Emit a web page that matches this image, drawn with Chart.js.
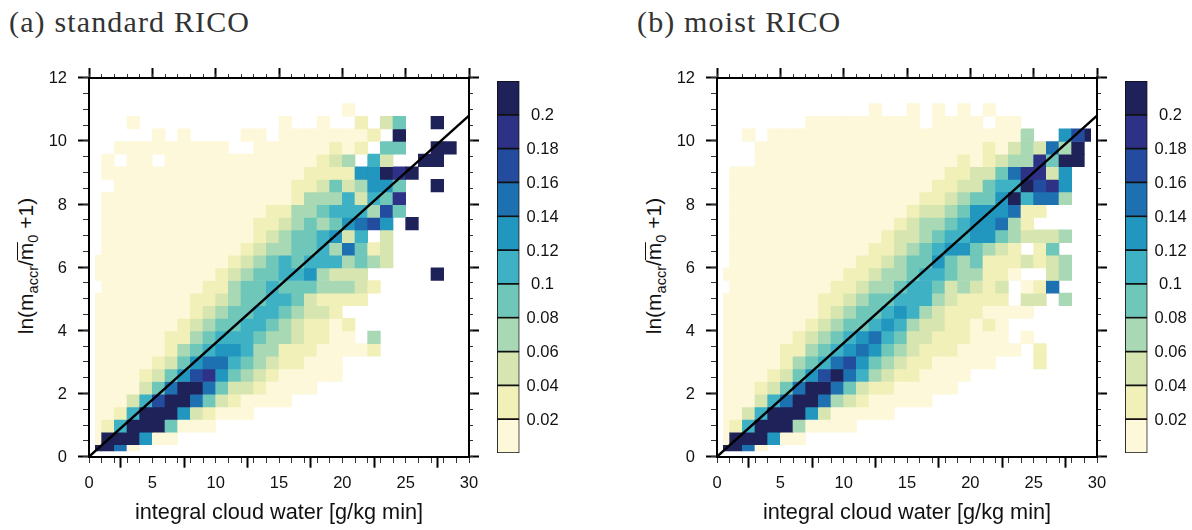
<!DOCTYPE html>
<html>
<head>
<meta charset="utf-8">
<script src="https://cdn.jsdelivr.net/npm/chart.js@4"></script>
<style>
  html, body { margin: 0; background: #fff; }
  #page { position: relative; width: 1192px; height: 530px; overflow: hidden; }
  canvas { position: absolute; }
  .panel-title { position: absolute; top: 5px; font: 30px "Liberation Serif", serif; letter-spacing: 1.15px; color: #333; white-space: nowrap; }
  .y-title { position: absolute; top: 266px; font: 21px "Liberation Sans", sans-serif; color: #111; white-space: nowrap;
    transform: translate(-50%, -50%) rotate(-90deg); }
  .y-title sub { font-size: 14.5px; line-height: 0; }
  .y-title .bar { display: inline-block; line-height: 16px; border-top: 1.5px solid #111; }
</style>
</head>
<body>
<div id="page"></div>
<script>
// colour class of each cell: 0 = empty, 1 = below 0.02 ... 11 = above 0.2
const levelColors = ["#fdf8da", "#f1f0b8", "#d7e6b1", "#a9d8b5", "#6fc7ba", "#3fb1c4",
  "#2196bf", "#1e71b0", "#234c9e", "#2e3286", "#1f2259"];
const levelTicks = ["0.02", "0.04", "0.06", "0.08", "0.1", "0.12", "0.14", "0.16", "0.18", "0.2"];
const levelStep = 0.02;

// fitted line
const fitX = [0, 30];
const fitY = [0, 10.8];

// panel titles and axis text
const titles = ["(a) standard RICO", "(b) moist RICO"];
const xTitle = "integral cloud water [g/kg min]";

// rows run bottom to top, columns left to right, trailing empties left off
const gridA = [
  [11,11,8,1],
  [1,11,11,11,7,1,1],
  [1,2,6,11,11,11,5,1,1,1],
  [1,1,2,6,11,11,11,7,3,2,1,1,1],
  [1,1,1,3,6,9,11,11,8,5,3,2,1,1,1,1],
  [1,1,1,1,3,5,8,11,11,8,5,3,3,2,1,1,1,1],
  [1,1,1,1,2,3,5,7,9,10,7,5,4,3,2,1,1,1,1,1],
  [1,1,1,1,1,2,3,5,7,8,8,6,5,4,3,2,2,1,1,1],
  [1,1,1,1,1,1,2,4,5,6,7,7,6,4,4,2,2,2,1,1,1,1,2],
  [1,1,1,1,1,1,2,2,4,5,6,6,6,5,4,4,3,2,2,1,1,0,4],
  [1,1,1,1,1,1,1,2,3,4,5,5,6,6,5,4,3,2,2,1,2],
  [1,1,1,1,1,1,1,1,2,3,4,5,5,6,6,5,4,3,3,2],
  [1,1,1,1,1,1,1,1,2,2,3,4,5,5,6,6,5,3,2,2,2,2],
  [0,1,1,1,1,1,1,1,1,2,2,4,5,5,6,5,5,5,4,4,4,3,2],
  [1,1,1,1,1,1,1,1,1,1,2,3,4,5,5,6,6,7,4,3,3,3,0,0,0,0,0,11],
  [1,1,1,1,1,1,1,1,1,1,1,2,3,4,5,6,5,6,6,6,4,5,4,3],
  [0,1,1,1,1,1,1,1,1,1,1,1,2,3,4,4,5,5,6,4,8,5,2,3],
  [0,1,1,1,1,1,1,1,1,1,1,1,1,2,3,4,5,5,6,7,3,6,0,3],
  [0,1,1,1,1,1,1,1,1,1,1,1,1,2,2,3,4,5,4,5,7,8,9,7,0,11],
  [0,1,1,1,1,1,1,1,1,1,1,1,1,1,2,2,4,4,5,6,6,6,4,9,5],
  [0,1,1,1,1,1,1,1,1,1,1,1,1,1,1,1,2,4,4,4,6,3,6,5,10],
  [0,0,1,1,1,1,1,1,1,1,1,1,1,1,1,1,2,2,3,5,3,4,7,7,5,0,0,11],
  [0,1,1,1,1,1,1,1,1,1,1,1,1,1,1,1,1,2,2,2,2,7,7,11,10,11],
  [0,1,0,1,1,0,1,1,1,1,1,1,1,1,1,1,1,1,2,3,4,0,6,3,0,0,11,11],
  [0,0,1,1,1,1,1,1,1,1,1,0,0,1,1,1,1,1,1,2,1,2,0,5,5,0,0,11,11],
  [0,0,0,0,0,1,0,1,0,0,0,0,1,1,0,1,1,1,1,1,1,1,2,0,11],
  [0,0,0,1,0,0,0,0,0,0,0,0,0,0,0,1,0,0,1,0,0,2,0,3,5,0,0,11],
  [0,0,0,0,0,0,0,0,0,0,0,0,0,0,0,0,0,0,0,0,1],
];

const gridB = [
  [11,11,8,1],
  [1,11,11,11,7,1,1],
  [1,2,6,11,11,11,4,1,1,1,1],
  [1,1,3,6,11,11,11,7,3,1,1,1,1,1],
  [1,1,1,3,6,8,11,11,8,4,3,2,1,1,1,1,1],
  [1,1,1,2,3,5,8,11,11,8,5,3,2,2,1,1,1,1,1],
  [1,1,1,1,2,3,5,7,9,11,8,6,4,3,2,2,1,1,1,1],
  [1,1,1,1,1,2,4,5,6,8,9,7,5,4,3,2,2,1,1,1,1,1,0,0,0,2],
  [1,1,1,1,1,2,2,4,5,6,7,8,7,5,4,3,2,2,2,1,1,1,1,1,0,2],
  [1,1,1,1,1,1,2,3,4,5,6,7,8,6,5,3,3,2,2,2,1,1,1,0,1],
  [1,1,1,1,1,1,1,2,3,4,5,5,6,7,6,4,3,3,2,2,1,2,1],
  [1,1,1,1,1,1,1,1,2,3,4,5,5,6,7,6,4,3,2,2,2,1,1,1,1],
  [1,1,1,1,1,1,1,1,2,2,3,4,5,5,6,6,6,4,3,2,2,2,2,0,3,3,0,4],
  [0,1,1,1,1,1,1,1,1,2,2,3,4,4,5,6,6,5,3,4,3,2,3,0,1,2,8],
  [1,1,1,1,1,1,1,1,1,1,2,2,3,4,4,5,6,6,5,4,4,2,2,1,0,0,3,4],
  [0,1,1,1,1,1,1,1,1,1,1,2,2,3,4,5,5,7,5,4,5,2,2,2,3,2,3,4],
  [0,1,1,1,1,1,1,1,1,1,1,1,2,2,3,4,5,6,7,7,5,4,3,2,0,2,5],
  [0,1,1,1,1,1,1,1,1,1,1,1,1,2,3,3,4,5,6,6,7,7,5,4,3,3,3,4],
  [0,1,1,1,1,1,1,1,1,1,1,1,1,1,2,3,4,4,5,6,7,7,8,4,2],
  [0,1,1,1,1,1,1,1,1,1,1,1,1,1,1,2,3,3,4,5,7,7,7,8,2,2],
  [0,1,1,1,1,1,1,1,1,1,1,1,1,1,1,1,2,2,3,4,5,5,7,11,6,8,8,4],
  [0,1,1,1,1,1,1,1,1,1,1,1,1,1,1,1,1,2,2,3,3,5,6,6,11,9,10,7],
  [0,1,1,1,1,1,1,1,1,1,1,1,1,1,1,1,1,1,2,2,3,3,5,8,10,10,3,7],
  [0,0,0,1,1,1,1,1,1,1,1,1,1,1,1,1,1,1,1,2,1,2,3,4,4,10,5,11,11],
  [0,0,0,1,1,1,1,1,1,1,1,1,1,1,1,1,1,1,1,1,1,2,1,3,4,3,8,4,11],
  [0,0,1,0,1,1,1,1,1,1,1,1,1,1,1,1,1,1,1,1,1,1,1,1,4,0,0,7,9,11],
  [0,0,0,0,0,0,0,1,1,1,1,1,1,1,1,1,0,1,1,1,1,0,1,1],
  [0,0,0,0,0,0,0,0,0,0,0,0,1,0,0,1,0,1,0,1,0,1],
];

const plotW = 380;
const cellW = plotW / 30;
const cellH = 0.4;
const rowStart = -0.02;

function cellsFrom(grid, half) {
  const cells = [];
  const colors = [];
  grid.forEach((row, r) => {
    row.forEach((level, c) => {
      const isHalf = c === 0 || c === 29;
      if (!level || isHalf !== half) return;
      const x = c === 0 ? 0.75 : c === 29 ? 29.25 : c + 0.5;
      // the bottom row is cut in half as well
      const low = r === 0 ? 0.18 : rowStart + r * cellH;
      cells.push({ x: x, y: [low, rowStart + (r + 1) * cellH] });
      colors.push(levelColors[level - 1]);
    });
  });
  return { cells, colors };
}

// extra axes that only draw the frame and tick marks around the plot
function frameAxis(axis, position, step, length, width) {
  const isX = axis === "x";
  return {
    axis: axis,
    type: "linear",
    position: position,
    min: 0,
    max: isX ? 30 : 12,
    offset: false,
    ticks: { display: false, stepSize: step },
    grid: { drawOnChartArea: false, tickLength: length, tickWidth: width, tickColor: width > 1.2 ? "#000" : "#333" },
    border: { display: true, color: "#000", width: 2 },
  };
}

function makePanel(index, grid, offset) {
  const page = document.getElementById("page");

  const title = document.createElement("div");
  title.className = "panel-title";
  title.style.left = (offset + 9) + "px";
  title.textContent = titles[index];
  page.appendChild(title);

  const yTitle = document.createElement("div");
  yTitle.className = "y-title";
  yTitle.style.left = (offset + 26) + "px";
  yTitle.innerHTML = 'ln(m<sub>accr</sub>/<span class="bar">m</span><sub>0</sub> +1)';
  page.appendChild(yTitle);

  const canvas = document.createElement("canvas");
  canvas.width = 490;
  canvas.height = 490;
  canvas.style.left = offset + "px";
  canvas.style.top = "40px";
  page.appendChild(canvas);

  const full = cellsFrom(grid, false);
  const half = cellsFrom(grid, true);

  new Chart(canvas.getContext("2d"), {
    data: {
      datasets: [
        {
          type: "line",
          data: fitX.map((x, i) => ({ x: x, y: fitY[i] })),
          borderColor: "#000",
          borderWidth: 2.4,
          pointRadius: 0,
          order: 0,
        },
        {
          type: "bar",
          data: full.cells,
          backgroundColor: full.colors,
          barThickness: cellW,
          order: 1,
        },
        {
          type: "bar",
          data: half.cells,
          backgroundColor: half.colors,
          barThickness: cellW / 2,
          order: 1,
        },
      ],
    },
    options: {
      responsive: false,
      animation: false,
      datasets: { bar: { grouped: false, borderWidth: 0 } },
      layout: { padding: { left: 0, top: 37.7, right: 21, bottom: 0 } },
      plugins: { legend: { display: false }, tooltip: { enabled: false } },
      scales: {
        x: {
          type: "linear",
          position: "bottom",
          min: 0,
          max: 30,
          offset: false,
          afterFit: (scale) => { scale.height = 73.3; },
          ticks: {
            stepSize: 5,
            autoSkip: false,
            maxRotation: 0,
            padding: 6,
            color: "#111",
            font: { family: "Liberation Sans", size: 16.5 },
          },
          grid: { drawOnChartArea: false, tickLength: 11, tickWidth: 2, tickColor: "#000" },
          border: { color: "#000", width: 2 },
          title: {
            display: true,
            text: xTitle,
            color: "#111",
            padding: { top: 0, bottom: 4 },
            font: { family: "Liberation Sans", size: 21.7 },
          },
        },
        y: {
          type: "linear",
          position: "left",
          min: 0,
          max: 12,
          afterFit: (scale) => { scale.width = 89; },
          ticks: {
            stepSize: 2,
            autoSkip: false,
            padding: 11,
            labelOffset: 1,
            color: "#111",
            font: { family: "Liberation Sans", size: 16.5 },
          },
          grid: { drawOnChartArea: false, tickLength: 11, tickWidth: 2, tickColor: "#000" },
          border: { color: "#000", width: 2 },
        },
        xMinorBottom: frameAxis("x", { y: 0 }, 1, 5, 1),
        xTop: frameAxis("x", { y: 12 }, 5, -11, 2),
        xMinorTop: frameAxis("x", { y: 12 }, 1, -5, 1),
        yMinorLeft: frameAxis("y", { x: 0 }, 0.5, 5, 1),
        yRight: frameAxis("y", { x: 30 }, 2, -11, 2),
        yMinorRight: frameAxis("y", { x: 30 }, 0.5, -5, 1),
      },
    },
  });

  // colour bar
  const barCanvas = document.createElement("canvas");
  barCanvas.width = 100;
  barCanvas.height = 410;
  barCanvas.style.left = (offset + 480) + "px";
  barCanvas.style.top = "60px";
  page.appendChild(barCanvas);

  new Chart(barCanvas.getContext("2d"), {
    type: "bar",
    data: {
      labels: [""],
      datasets: levelColors.map((color) => ({
        data: [levelStep],
        backgroundColor: color,
        borderColor: "#111",
        borderWidth: 1.2,
        borderSkipped: false,
        barPercentage: 1,
        categoryPercentage: 1,
      })),
    },
    options: {
      responsive: false,
      animation: false,
      layout: { padding: { left: 17, top: 21, right: 0, bottom: 17 } },
      plugins: { legend: { display: false }, tooltip: { enabled: false } },
      scales: {
        x: { stacked: true, display: false },
        y: {
          stacked: true,
          position: "right",
          min: 0,
          max: levelStep * levelColors.length,
          afterFit: (scale) => { scale.width = 60.5; },
          grid: { display: false, drawTicks: false },
          border: { display: false },
          ticks: {
            stepSize: levelStep,
            autoSkip: false,
            padding: 7,
            labelOffset: 1,
            crossAlign: "center",
            color: "#111",
            font: { family: "Liberation Sans", size: 16.5 },
            callback: (value, i) => levelTicks[i - 1] || "",
          },
        },
      },
    },
  });
}

makePanel(0, gridA, 0);
makePanel(1, gridB, 628);
</script>
</body>
</html>
